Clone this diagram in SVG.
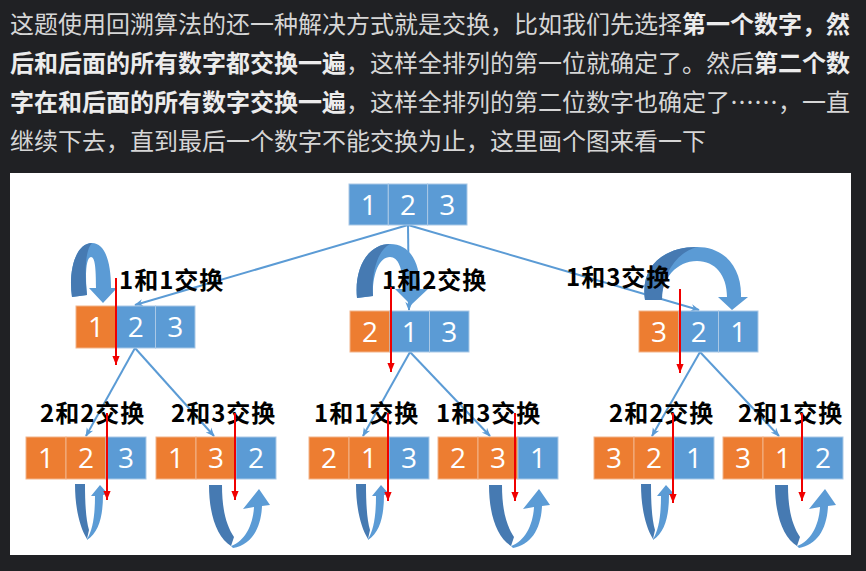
<svg xmlns="http://www.w3.org/2000/svg" width="866" height="571" viewBox="0 0 866 571">
  <style>
    .intro { font-family: "Noto Sans CJK SC", "Noto Sans", sans-serif; font-size: 24px; fill: #d6d6d6; }
    .b { font-weight: bold; fill: #ececec; }
    .cb { fill: #5B9BD5; stroke: #a9c8e6; stroke-width: 1; }
    .co { fill: #ED7D31; stroke: #f2b48a; stroke-width: 1; }
    .num { font-family: "Open Sans", "Liberation Sans", sans-serif; font-size: 28px; fill: #ffffff; text-anchor: middle; }
    .lbl { font-family: "Noto Sans CJK SC", "Noto Sans", sans-serif; font-weight: bold; font-size: 24px; letter-spacing: 1px; fill: #000000; }
    .conn { stroke: #5B9BD5; stroke-width: 2; fill: none; marker-end: url(#ab); }
    .red { stroke: #f00000; stroke-width: 2; fill: none; marker-end: url(#ar); }
    .lt { fill: #5B9BD5; }
    .dk { fill: #467AB2; }
  </style>
  <defs>
    <marker id="ab" viewBox="0 0 10 10" refX="9" refY="5" markerWidth="9" markerHeight="9" markerUnits="userSpaceOnUse" orient="auto">
      <path d="M0,1 L10,5 L0,9 L3,5 Z" fill="#5B9BD5"/>
    </marker>
    <marker id="ar" viewBox="0 0 10 10" refX="10" refY="5" markerWidth="9" markerHeight="9" markerUnits="userSpaceOnUse" orient="auto">
      <path d="M0,1 L10,5 L0,9 Z" fill="#f00000"/>
    </marker>
    <!-- narrow U-turn arrow (self swap) -->
    <g id="uNarrow">
      <path class="lt" d="M12,55 C18,46 20,30 20,12 L16,12 L25,1 L33,10 L28,11 C28,32 24,48 12,56 Z"/>
      <path class="dk" d="M0,0 L10,0 C10,20 11,36 14,46 L12,55 C4,42 0,22 0,0 Z"/>
    </g>
    <!-- wide U-turn arrow (swap with neighbour) -->
    <g id="uWide">
      <path class="lt" d="M22,61 C36,56 44,40 45,22 L34,24 L50,4 L61,20 L53,21 C52,44 42,60 24,63 Z"/>
      <path class="dk" d="M0,0 L13,0 C13,24 17,40 25,52 L22,61 C8,52 0,30 0,0 Z"/>
    </g>
  </defs>

  <rect x="0" y="0" width="866" height="571" fill="#202124"/>

  <!-- explanation paragraph -->
  <text class="intro" x="10" y="33">这题使用回溯算法的还一种解决方式就是交换，比如我们先选择<tspan class="b">第一个数字，然</tspan></text>
  <text class="intro" x="10" y="72"><tspan class="b">后和后面的所有数字都交换一遍</tspan>，这样全排列的第一位就确定了。然后<tspan class="b">第二个数</tspan></text>
  <text class="intro" x="10" y="111"><tspan class="b">字在和后面的所有数字交换一遍</tspan>，这样全排列的第二位数字也确定了……，一直</text>
  <text class="intro" x="10" y="150">继续下去，直到最后一个数字不能交换为止，这里画个图来看一下</text>

  <!-- figure panel -->
  <rect x="10" y="173" width="841" height="382" fill="#ffffff"/>

  <!-- tree connectors -->
  <g id="connectors">
    <line class="conn" x1="408" y1="225" x2="135" y2="305"/>
    <line class="conn" x1="408" y1="225" x2="409" y2="310"/>
    <line class="conn" x1="408" y1="225" x2="699" y2="310"/>
    <line class="conn" x1="135" y1="348" x2="86" y2="436"/>
    <line class="conn" x1="135" y1="348" x2="214" y2="436"/>
    <line class="conn" x1="410" y1="352" x2="363" y2="436"/>
    <line class="conn" x1="410" y1="352" x2="490" y2="436"/>
    <line class="conn" x1="700" y1="352" x2="652" y2="436"/>
    <line class="conn" x1="700" y1="352" x2="779" y2="436"/>
  </g>

  <!-- root -->
  <g id="root">
    <rect class="cb" x="349" y="184" width="39.3" height="41"/>
    <rect class="cb" x="388.3" y="184" width="39.3" height="41"/>
    <rect class="cb" x="427.6" y="184" width="39.4" height="41"/>
    <text class="num" x="368.7" y="215">1</text>
    <text class="num" x="408" y="215">2</text>
    <text class="num" x="447.3" y="215">3</text>
  </g>

  <!-- level 2 -->
  <g id="n123">
    <rect class="co" x="76" y="306" width="40" height="42"/>
    <rect class="cb" x="116" y="306" width="39.5" height="42"/>
    <rect class="cb" x="155.5" y="306" width="39.5" height="42"/>
    <text class="num" x="96" y="337">1</text>
    <text class="num" x="135.8" y="337">2</text>
    <text class="num" x="175.3" y="337">3</text>
    <path class="lt" d="M72,297 C68,270 76,243 92,243 C105,243 111,262 111,288 L117,288 L103,303 L89,288 L96,288 C96,268 95,257 91,257 C86,257 85,275 87,295 Z"/>
    <path class="dk" d="M72,297 C68,270 76,243 92,243 C86,249 84,268 87,295 Z"/>
  </g>
  <g id="n213">
    <rect class="co" x="350" y="311" width="40" height="41"/>
    <rect class="cb" x="390" y="311" width="39.5" height="41"/>
    <rect class="cb" x="429.5" y="311" width="39.5" height="41"/>
    <text class="num" x="370" y="342">2</text>
    <text class="num" x="409.8" y="342">1</text>
    <text class="num" x="449.3" y="342">3</text>
    <path class="lt" d="M357,298 C354,268 368,244 390,244 C410,244 420,262 420,289 L428,289 L411,305 L395,289 L403,289 C403,268 398,257 390,257 C379,257 372,275 373,296 Z"/>
    <path class="dk" d="M357,298 C354,268 368,244 390,244 C378,250 371,272 373,296 Z"/>
  </g>
  <g id="n321">
    <rect class="co" x="639" y="311" width="40" height="41"/>
    <rect class="cb" x="679" y="311" width="39.5" height="41"/>
    <rect class="cb" x="718.5" y="311" width="39.5" height="41"/>
    <text class="num" x="659" y="342">3</text>
    <text class="num" x="698.8" y="342">2</text>
    <text class="num" x="738.3" y="342">1</text>
    <path class="lt" d="M645,300 C640,268 662,247 697,247 C725,247 742,268 741,297 L748,297 L732,310 L718,297 L727,297 C727,275 715,261 697,261 C676,261 661,280 662,300 Z"/>
    <path class="dk" d="M645,300 C640,268 662,247 697,247 C678,252 662,272 662,300 Z"/>
  </g>

  <!-- level 3 -->
  <g id="n123b">
    <rect class="co" x="26" y="437" width="40" height="42"/>
    <rect class="co" x="66" y="437" width="40" height="42"/>
    <rect class="cb" x="106" y="437" width="40" height="42"/>
    <text class="num" x="46" y="468">1</text>
    <text class="num" x="86" y="468">2</text>
    <text class="num" x="126" y="468">3</text>
    <use href="#uNarrow" x="75" y="484"/>
  </g>
  <g id="n132">
    <rect class="co" x="156" y="437" width="40" height="42"/>
    <rect class="co" x="196" y="437" width="40" height="42"/>
    <rect class="cb" x="236" y="437" width="40" height="42"/>
    <text class="num" x="176" y="468">1</text>
    <text class="num" x="216" y="468">3</text>
    <text class="num" x="256" y="468">2</text>
    <use href="#uWide" x="209" y="485"/>
  </g>
  <g id="n213b">
    <rect class="co" x="309" y="437" width="40" height="42"/>
    <rect class="co" x="349" y="437" width="40" height="42"/>
    <rect class="cb" x="389" y="437" width="40" height="42"/>
    <text class="num" x="329" y="468">2</text>
    <text class="num" x="369" y="468">1</text>
    <text class="num" x="409" y="468">3</text>
    <use href="#uNarrow" x="356" y="484"/>
  </g>
  <g id="n231">
    <rect class="co" x="438" y="437" width="40" height="42"/>
    <rect class="co" x="478" y="437" width="40" height="42"/>
    <rect class="cb" x="518" y="437" width="40" height="42"/>
    <text class="num" x="458" y="468">2</text>
    <text class="num" x="498" y="468">3</text>
    <text class="num" x="538" y="468">1</text>
    <use href="#uWide" x="489" y="485"/>
  </g>
  <g id="n321b">
    <rect class="co" x="594" y="437" width="40" height="42"/>
    <rect class="co" x="634" y="437" width="40" height="42"/>
    <rect class="cb" x="674" y="437" width="40" height="42"/>
    <text class="num" x="614" y="468">3</text>
    <text class="num" x="654" y="468">2</text>
    <text class="num" x="694" y="468">1</text>
    <use href="#uNarrow" x="641" y="484"/>
  </g>
  <g id="n312">
    <rect class="co" x="723" y="437" width="40" height="42"/>
    <rect class="co" x="763" y="437" width="40" height="42"/>
    <rect class="cb" x="803" y="437" width="40" height="42"/>
    <text class="num" x="743" y="468">3</text>
    <text class="num" x="783" y="468">1</text>
    <text class="num" x="823" y="468">2</text>
    <use href="#uWide" x="775" y="485"/>
  </g>

  <!-- swap labels -->
  <g id="labels">
    <text class="lbl" x="119" y="289">1和1交换</text>
    <text class="lbl" x="382" y="289">1和2交换</text>
    <text class="lbl" x="566" y="286">1和3交换</text>
    <text class="lbl" x="40" y="422">2和2交换</text>
    <text class="lbl" x="171" y="422">2和3交换</text>
    <text class="lbl" x="314" y="422">1和1交换</text>
    <text class="lbl" x="436" y="422">1和3交换</text>
    <text class="lbl" x="609" y="422">2和2交换</text>
    <text class="lbl" x="738" y="422">2和1交换</text>
  </g>

  <!-- fixed-prefix markers -->
  <g id="fixed">
    <line class="red" x1="116" y1="278" x2="116" y2="365"/>
    <line class="red" x1="391" y1="287" x2="391" y2="372"/>
    <line class="red" x1="680" y1="289" x2="680" y2="373"/>
    <line class="red" x1="107" y1="413" x2="107" y2="500"/>
    <line class="red" x1="235" y1="413" x2="235" y2="500"/>
    <line class="red" x1="388" y1="413" x2="388" y2="501"/>
    <line class="red" x1="515" y1="413" x2="515" y2="501"/>
    <line class="red" x1="673" y1="413" x2="673" y2="503"/>
    <line class="red" x1="802" y1="413" x2="802" y2="501"/>
  </g>
</svg>
